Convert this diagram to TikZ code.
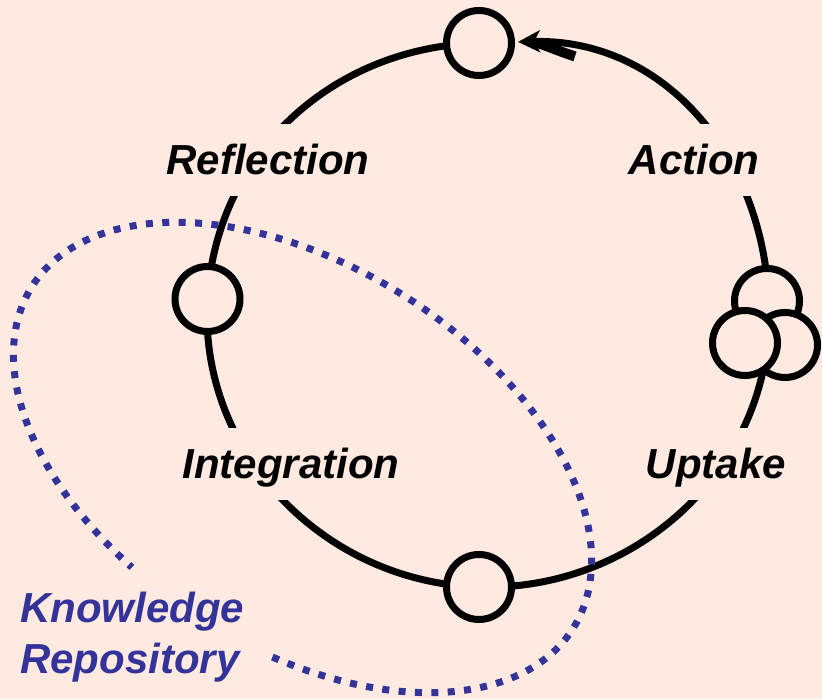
\documentclass[tikz,border=0pt]{standalone}
\usepackage{fontspec}
\setmainfont{Liberation Sans}
\usetikzlibrary{arrows.meta, backgrounds}
\definecolor{bgpink}{RGB}{254,234,225}
\definecolor{repoblue}{RGB}{51,51,153}
\tikzset{
    hub/.style = {circle, draw, line width = 7pt, fill = bgpink, minimum size = 65pt, inner sep = 0pt},
    phase/.style = {font = \fontsize{42}{50}\selectfont\bfseries\itshape, fill = bgpink,
        text height = 30pt, text depth = 0pt, inner xsep = 6pt, inner ysep = 21pt, anchor = base},
    ring/.style = {line width = 7pt},
    dots/.style = {draw = repoblue, line width = 7pt, dash pattern = on 7pt off 9.4pt}
}
\begin{document}
\begin{tikzpicture}[x = 1pt, y = 1pt]
        \useasboundingbox (0,0) rectangle (822,699);
        % stage circles on the ring
        \node[hub] (top) at (479,656) {};
        \node[hub] (left) at (207.5,400) {};
        \node[hub] (bottom) at (479,112) {};
        \coordinate (right) at (769,384);
        \coordinate (shaft) at (575,642.6);
        % uptake cluster
        \foreach \name/\x/\y in {up1/767/398, up3/785/354, up2/745/356}
            \node[hub] (\name) at (\x,\y) {};
        % labels
        \foreach \txt/\x/\y in {Reflection/268/524, Action/694/524, Integration/291/220, Uptake/716/220}
            \node[phase] (\txt) at (\x,\y) {\txt};
        \begin{scope}[on background layer]
            \fill[bgpink] (0,0) rectangle (822,699);
            \draw[ring] (top.center) to[out = 181.7, in = 86.5] (left.center);
            \draw[ring] (left.center) to[out = 266.5, in = 178.3] (bottom.center);
            \draw[ring] (bottom.center) to[out = 358.3, in = 270] (right);
            \draw[ring, -{Stealth[length = 22pt, width = 22pt, inset = 6pt]}, shorten > = 3pt]
                (right) to[out = 90, in = 1.7, looseness = 1.05] (top);
            \draw[line width = 10pt, shorten > = 14pt] (shaft) to[out = 162.5, in = 1.7] (top);
        \end{scope}
        % knowledge repository
        \node[font = \fontsize{42}{51}\selectfont\bfseries\itshape, text = repoblue, align = left,
            anchor = base west, inner sep = 0pt] (repo) at (20,26) {Knowledge\\Repository};
        \begin{scope}[shift = {(302.5,241.5)}, rotate = -32.3]
            \draw[dots] (284.7:320 and 191) arc[start angle = 284.7, end angle = 614.5, x radius = 320, y radius = 191];
        \end{scope}
    \end{tikzpicture}
\end{document}
